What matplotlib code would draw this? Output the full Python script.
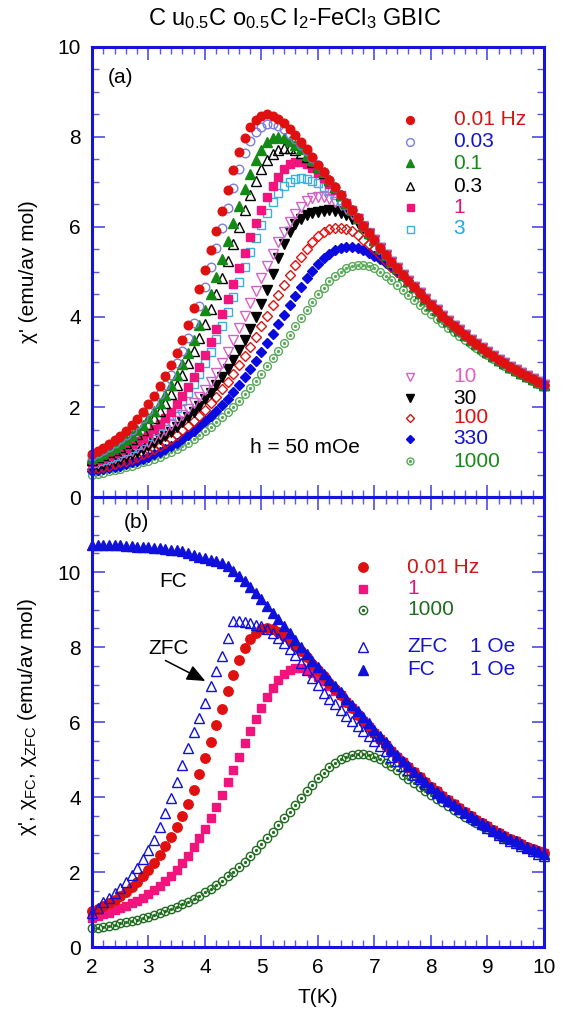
import numpy as np
import matplotlib
matplotlib.use("Agg")
import matplotlib.pyplot as plt
from matplotlib.ticker import MultipleLocator

plt.rcParams["font.family"] = ["Liberation Sans", "DejaVu Sans"]
plt.rcParams["mathtext.fontset"] = "custom"
plt.rcParams["mathtext.rm"] = "Liberation Sans"
plt.rcParams["mathtext.it"] = "Liberation Sans:italic"

# temperature sweep (K), 0.1 K steps
T = np.arange(20, 101) / 10.0

# common high-T branch of chi' from 6.0 K to 10 K (curves merge onto it)
tail = [7.38, 7.22, 7.05, 6.88, 6.71, 6.54, 6.37, 6.20, 6.03, 5.86,
        5.70, 5.54, 5.38, 5.23, 5.08, 4.94, 4.80, 4.66, 4.53, 4.40,
        4.27, 4.15, 4.03, 3.92, 3.81, 3.70, 3.60, 3.50, 3.40, 3.31,
        3.22, 3.13, 3.05, 2.97, 2.89, 2.82, 2.75, 2.68, 2.62, 2.56,
        2.50]


def full(own):
    # own values start at 2.0 K, tail starts at 6.0 K (index 40)
    return np.array(own + tail[len(own) - 40:])


chi_001 = full([0.96, 1.02, 1.09, 1.17, 1.26, 1.36, 1.47, 1.59, 1.73, 1.89,
                2.06, 2.25, 2.46, 2.69, 2.94, 3.21, 3.50, 3.82, 4.20, 4.62,
                5.05, 5.48, 5.92, 6.36, 6.82, 7.26, 7.66, 7.98, 8.22, 8.38,
                8.47, 8.50, 8.47, 8.40, 8.30, 8.18, 8.04, 7.89, 7.73, 7.56])
chi_003 = full([0.92, 0.98, 1.04, 1.11, 1.19, 1.28, 1.38, 1.49, 1.62, 1.76,
                1.92, 2.09, 2.28, 2.49, 2.72, 2.97, 3.24, 3.54, 3.87, 4.24,
                4.66, 5.10, 5.54, 5.98, 6.42, 6.86, 7.28, 7.64, 7.92, 8.11,
                8.23, 8.28, 8.28, 8.24, 8.17, 8.07, 7.96, 7.83, 7.69, 7.54])
chi_01 = full([0.87, 0.92, 0.98, 1.04, 1.11, 1.19, 1.28, 1.38, 1.49, 1.61,
               1.75, 1.91, 2.08, 2.27, 2.48, 2.71, 2.96, 3.21, 3.50, 3.82,
               4.15, 4.50, 4.88, 5.28, 5.68, 6.08, 6.47, 6.84, 7.18, 7.48,
               7.72, 7.88, 7.97, 8.00, 7.97, 7.91, 7.83, 7.73, 7.61, 7.48,
               7.34])
chi_03 = full([0.83, 0.88, 0.93, 0.99, 1.05, 1.12, 1.20, 1.29, 1.39, 1.50,
               1.62, 1.76, 1.92, 2.09, 2.28, 2.49, 2.72, 2.97, 3.25, 3.54,
               3.85, 4.17, 4.51, 4.87, 5.24, 5.62, 6.00, 6.37, 6.71, 7.02,
               7.28, 7.48, 7.62, 7.71, 7.75, 7.75, 7.71, 7.64, 7.55, 7.45,
               7.33, 7.20])
chi_1 = full([0.78, 0.82, 0.87, 0.92, 0.98, 1.04, 1.10, 1.17, 1.24, 1.32,
              1.42, 1.52, 1.63, 1.76, 1.90, 2.06, 2.24, 2.44, 2.66, 2.90,
              3.16, 3.44, 3.74, 4.06, 4.39, 4.73, 5.08, 5.43, 5.77, 6.08,
              6.38, 6.66, 6.91, 7.12, 7.29, 7.40, 7.45, 7.44, 7.39, 7.31,
              7.21, 7.09, 6.96, 6.83])
chi_3 = full([0.76, 0.79, 0.83, 0.87, 0.92, 0.97, 1.03, 1.09, 1.16, 1.25,
              1.36, 1.46, 1.57, 1.69, 1.82, 1.97, 2.13, 2.31, 2.51, 2.73,
              2.97, 3.23, 3.51, 3.81, 4.12, 4.44, 4.78, 5.12, 5.44, 5.75,
              6.04, 6.31, 6.55, 6.75, 6.90, 7.00, 7.06, 7.08, 7.07, 7.03,
              6.97, 6.89, 6.80, 6.70, 6.60, 6.49])
chi_10 = full([0.72, 0.75, 0.79, 0.83, 0.87, 0.92, 0.97, 1.03, 1.09, 1.16,
               1.23, 1.31, 1.40, 1.49, 1.59, 1.70, 1.82, 1.95, 2.08, 2.22,
               2.38, 2.55, 2.75, 2.98, 3.23, 3.48, 3.75, 4.02, 4.30, 4.58,
               4.86, 5.14, 5.41, 5.66, 5.89, 6.10, 6.29, 6.45, 6.57, 6.64,
               6.67, 6.66, 6.62, 6.56, 6.48, 6.39, 6.29, 6.17])
chi_30 = full([0.67, 0.70, 0.73, 0.77, 0.81, 0.85, 0.90, 0.95, 1.01, 1.07,
               1.14, 1.21, 1.28, 1.36, 1.45, 1.55, 1.66, 1.78, 1.90, 2.03,
               2.17, 2.32, 2.48, 2.66, 2.85, 3.05, 3.27, 3.50, 3.74, 4.00,
               4.28, 4.60, 4.95, 5.30, 5.62, 5.88, 6.06, 6.18, 6.26, 6.31,
               6.34, 6.36, 6.37, 6.36, 6.32, 6.26, 6.18, 6.08, 5.97, 5.84])
chi_100 = full([0.62, 0.64, 0.67, 0.70, 0.73, 0.77, 0.81, 0.85, 0.90, 0.95,
                1.01, 1.07, 1.14, 1.21, 1.29, 1.38, 1.48, 1.58, 1.69, 1.81,
                1.94, 2.08, 2.23, 2.39, 2.56, 2.74, 2.93, 3.13, 3.34, 3.56,
                3.79, 4.02, 4.26, 4.49, 4.72, 4.94, 5.15, 5.34, 5.52, 5.67,
                5.80, 5.89, 5.95, 5.98, 5.98, 5.95, 5.90, 5.82, 5.72, 5.62,
                5.50, 5.37, 5.24, 5.11, 4.99])
chi_330 = full([0.58, 0.60, 0.62, 0.64, 0.67, 0.70, 0.73, 0.77, 0.81, 0.85,
                0.90, 0.95, 1.01, 1.07, 1.14, 1.21, 1.29, 1.38, 1.47, 1.57,
                1.68, 1.79, 1.91, 2.04, 2.18, 2.33, 2.49, 2.66, 2.84, 3.03,
                3.22, 3.42, 3.63, 3.84, 4.05, 4.26, 4.47, 4.67, 4.86, 5.03,
                5.18, 5.31, 5.41, 5.49, 5.54, 5.56, 5.56, 5.53, 5.49, 5.43,
                5.36, 5.28, 5.19, 5.10, 5.00, 4.90])
chi_1000 = np.array([0.50, 0.52, 0.54, 0.57, 0.60, 0.63, 0.66, 0.69, 0.73, 0.77,
                     0.81, 0.85, 0.90, 0.95, 1.01, 1.07, 1.14, 1.21, 1.29, 1.37,
                     1.46, 1.56, 1.66, 1.77, 1.89, 2.01, 2.14, 2.28, 2.43, 2.58,
                     2.74, 2.91, 3.08, 3.25, 3.43, 3.61, 3.79, 3.97, 4.15, 4.33,
                     4.50, 4.65, 4.79, 4.91, 5.01, 5.08, 5.13, 5.16, 5.16, 5.13,
                     5.08, 5.01, 4.92, 4.82, 4.71, 4.60, 4.49, 4.38, 4.27, 4.16,
                     4.06, 3.96, 3.86, 3.76, 3.66, 3.57, 3.48, 3.39, 3.31, 3.23,
                     3.15, 3.07, 2.99, 2.92, 2.85, 2.78, 2.71, 2.64, 2.57, 2.51,
                     2.45])

# dc susceptibility, 1 Oe
chi_zfc = np.array([0.91, 1.05, 1.19, 1.32, 1.45, 1.58, 1.74, 1.92, 2.12, 2.34,
                    2.58, 2.86, 3.20, 3.58, 3.98, 4.40, 4.86, 5.30, 5.73, 6.12,
                    6.50, 6.95, 7.35, 7.75, 8.25, 8.69, 8.69, 8.67, 8.63, 8.60,
                    8.56, 8.49, 8.38, 8.25, 8.11, 7.96, 7.78, 7.58, 7.38, 7.18,
                    6.98, 6.78, 6.62, 6.47, 6.32, 6.17, 6.03, 5.89, 5.76, 5.63,
                    5.50, 5.36, 5.22, 5.08, 4.95, 4.83, 4.71, 4.59, 4.47, 4.35,
                    4.23, 4.12, 4.01, 3.90, 3.79, 3.68, 3.58, 3.48, 3.38, 3.28,
                    3.18, 3.09, 3.00, 2.92, 2.84, 2.77, 2.70, 2.63, 2.56, 2.49,
                    2.42])
chi_fc = np.array([10.73, 10.73, 10.72, 10.72, 10.71, 10.71, 10.70, 10.69, 10.68, 10.67,
                   10.66, 10.65, 10.64, 10.62, 10.60, 10.58, 10.55, 10.51, 10.46, 10.41,
                   10.37, 10.33, 10.29, 10.23, 10.15, 10.03, 9.90, 9.75, 9.60, 9.44,
                   9.27, 9.09, 8.92, 8.74, 8.56, 8.38, 8.20, 8.01, 7.82, 7.64,
                   7.46, 7.29, 7.12, 6.95, 6.79, 6.62, 6.46, 6.30, 6.13, 5.97,
                   5.80, 5.63, 5.46, 5.29, 5.13, 4.97, 4.82, 4.67, 4.53, 4.39,
                   4.26, 4.14, 4.02, 3.91, 3.80, 3.69, 3.59, 3.49, 3.40, 3.31,
                   3.22, 3.13, 3.05, 2.97, 2.89, 2.82, 2.75, 2.68, 2.62, 2.55,
                   2.49])

freq_labels_a = ["0.01 Hz", "0.03", "0.1", "0.3", "1", "3"]
freq_labels_b = ["10", "30", "100", "330", "1000"]
labels_b = ["0.01 Hz", "1", "1000", "ZFC", "FC"]

BLUE = "#1414dc"
TICK = "#5a5ae6"

# (series, marker, face, edge, size, text colour)
style_a = [
    (chi_001, "o", "#e01010", "#e01010", 6.2, "#d41414"),
    (chi_003, "o", "none", "#7c7ce0", 6.2, "#1414d0"),
    (chi_01, "^", "#138a13", "#138a13", 6.8, "#178a17"),
    (chi_03, "^", "none", "black", 6.8, "black"),
    (chi_1, "s", "#f0147c", "#f0147c", 5.6, "#e8147c"),
    (chi_3, "s", "none", "#3ab0e2", 5.6, "#22a8e2"),
]
style_b = [
    (chi_10, "v", "none", "#d460c8", 6.8, "#e060c4"),
    (chi_30, "v", "black", "black", 6.8, "black"),
    (chi_100, "D", "none", "#e01010", 4.6, "#e01010"),
    (chi_330, "D", "#0a0ae0", "#0a0ae0", 4.6, "#1010d0"),
    (chi_1000, "o", "none", "#58aa58", 5.6, "#168a16"),
]


def style_axes(ax, ymax, ylabels):
    ax.set_xlim(2, 10)
    ax.set_ylim(0, ymax)
    for s in ax.spines.values():
        s.set_color(BLUE)
        s.set_linewidth(2.2)
    ax.xaxis.set_major_locator(MultipleLocator(1))
    ax.xaxis.set_minor_locator(MultipleLocator(0.2))
    ax.set_yticks(np.arange(0, ymax + 0.1, 2))
    ax.set_yticklabels(ylabels)
    ax.yaxis.set_minor_locator(MultipleLocator(0.5))
    ax.tick_params(which="both", direction="in", top=True, right=True,
                   color=TICK, labelcolor="black", labelsize=15)
    ax.tick_params(which="major", length=9, width=1.3, pad=8)
    ax.tick_params(which="minor", length=5, width=1.0)


def draw(ax, y, mk, fc, ec, ms):
    ax.plot(T, y, ls="none", marker=mk, mfc=fc, mec=ec, ms=ms, mew=1.0,
            clip_on=False)
    if mk == "o" and fc == "none" and ec in ("#58aa58", "#1e6e1e"):
        ax.plot(T, y, ls="none", marker="o", mfc=ec, mec=ec, ms=1.3,
                clip_on=False)


fig = plt.figure(figsize=(5.76, 10.17), dpi=100)
ax1 = fig.add_axes([0.1597, 0.5113, 0.7847, 0.4425])
ax2 = fig.add_axes([0.1597, 0.0688, 0.7847, 0.4425])

# ---- panel (a)
for y, mk, fc, ec, ms, tc in (style_b[::-1] + style_a[::-1]):
    draw(ax1, y, mk, fc, ec, ms)

style_axes(ax1, 10, ["0", "2", "4", "6", "8", "10"])
ax1.tick_params(labelbottom=False)

rows_a = [0.838, 0.789, 0.742, 0.691, 0.644, 0.596]
for (y, mk, fc, ec, ms, tc), lab, ry in zip(style_a, freq_labels_a, rows_a):
    ax1.plot([0.704], [ry], transform=ax1.transAxes, marker=mk, mfc=fc,
             mec=ec, ms=ms * 0.9, mew=1.0, ls="none")
    ax1.text(0.80, ry, lab, transform=ax1.transAxes, color=tc, fontsize=15,
             va="center", ha="left")
rows_b = [0.267, 0.220, 0.176, 0.129, 0.080]
for (y, mk, fc, ec, ms, tc), lab, ry in zip(style_b, freq_labels_b, rows_b):
    ax1.plot([0.704], [ry], transform=ax1.transAxes, marker=mk, mfc=fc,
             mec=ec, ms=ms * 0.9, mew=1.0, ls="none")
    if mk == "o":
        ax1.plot([0.704], [ry], transform=ax1.transAxes, marker="o",
                 mfc=ec, mec=ec, ms=1.3, ls="none")
    ax1.text(0.80, ry, lab, transform=ax1.transAxes, color=tc, fontsize=15,
             va="center", ha="left")

ax1.text(0.035, 0.933, "(a)", transform=ax1.transAxes, fontsize=15,
         va="center", ha="left")
ax1.text(5.77, 1.11, "h = 50 mOe", fontsize=15, ha="center", va="center")

# ---- panel (b)
style_b2 = [
    (chi_1000, "o", "none", "#1e6e1e", 6.0),
    (chi_1, "s", "#f0147c", "#f0147c", 6.0),
    (chi_001, "o", "#e01010", "#e01010", 6.8),
    (chi_fc, "^", "#1010dc", "#1010dc", 7.2),
    (chi_zfc, "^", "none", "#1010dc", 7.2),
]
for y, mk, fc, ec, ms in style_b2:
    draw(ax2, y, mk, fc, ec, ms)

style_axes(ax2, 12, ["0", "2", "4", "6", "8", "10", ""])

leg2 = [
    ("o", "#e01010", "#e01010", 6.8, "#d41414", 0.844),
    ("s", "#f0147c", "#f0147c", 6.0, "#e8147c", 0.796),
    ("o", "none", "#1e6e1e", 6.0, "#1e6e1e", 0.749),
    ("^", "none", "#1010dc", 7.2, "#1414d0", 0.667),
    ("^", "#1010dc", "#1010dc", 7.2, "#1414d0", 0.616),
]
for (mk, fc, ec, ms, tc, ry), lab in zip(leg2, labels_b):
    ax2.plot([0.600], [ry], transform=ax2.transAxes, marker=mk, mfc=fc,
             mec=ec, ms=ms, mew=1.0, ls="none")
    if ec == "#1e6e1e":
        ax2.plot([0.600], [ry], transform=ax2.transAxes, marker="o",
                 mfc=ec, mec=ec, ms=1.3, ls="none")
    ax2.text(0.697, ry, lab, transform=ax2.transAxes, color=tc, fontsize=15,
             va="center", ha="left")
    if lab in ("ZFC", "FC"):
        ax2.text(0.836, ry, "1 Oe", transform=ax2.transAxes, color=tc,
                 fontsize=15, va="center", ha="left")

ax2.text(0.07, 0.943, "(b)", transform=ax2.transAxes, fontsize=15,
         va="center", ha="left")
ax2.text(3.43, 9.76, "FC", fontsize=15, ha="center", va="center")
ax2.text(3.35, 7.96, "ZFC", fontsize=15, ha="center", va="center")
ax2.annotate("", xy=(4.05, 7.06), xytext=(3.30, 7.64),
             arrowprops=dict(arrowstyle="-|>,head_length=0.7,head_width=0.3",
                             color="black", lw=1.1, mutation_scale=16,
                             shrinkA=0, shrinkB=2))

# ---- labels
fig.text(0.512, 0.982, r"C u$_{0.5}$C o$_{0.5}$C l$_2$-FeCl$_3$ GBIC",
         fontsize=17, ha="center", va="center")
fig.text(0.049, 0.733, "χ' (emu/av mol)", rotation=90, fontsize=15,
         ha="center", va="center")
fig.text(0.047, 0.295, r"χ', χ$_{\rm FC}$, χ$_{\rm ZFC}$ (emu/av mol)",
         rotation=90, fontsize=15, ha="center", va="center")
fig.text(0.552, 0.019, "T(K)", fontsize=15, ha="center", va="center")

fig.savefig("out.png", dpi=100)
